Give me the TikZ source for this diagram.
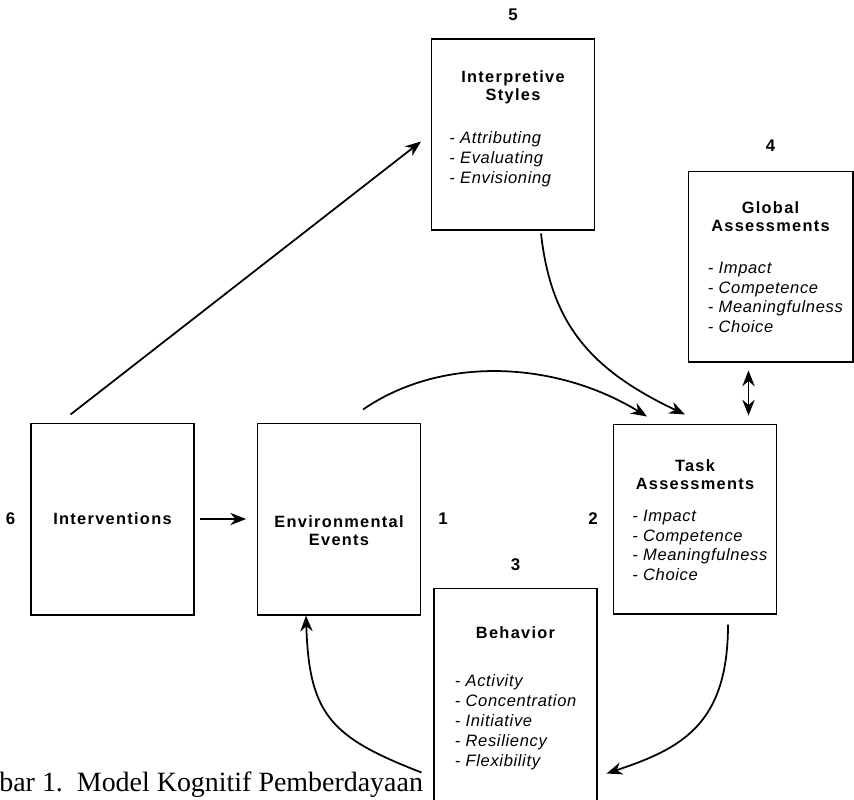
\documentclass[tikz,border=0pt]{standalone}
\usepackage{fontspec}
\setmainfont{Liberation Sans}
\newfontfamily\capfont{Liberation Serif}
\newfontfamily\headfont[LetterSpace=8]{Liberation Sans}
\newfontfamily\itemfont[LetterSpace=4]{Liberation Sans}
\usetikzlibrary{positioning, arrows.meta, calc}

\begin{document}
\begin{tikzpicture}[x=0.02cm, y=-0.02cm, >={Stealth[length=9pt,width=7pt]},
  box/.style={draw, line width=0.6pt, minimum width=3.26cm, minimum height=3.84cm, inner sep=0pt},
  head/.style={font=\headfont\bfseries\fontsize{9.3}{10.2}\selectfont, align=center, inner sep=0pt},
  items/.style={font=\itemfont\itshape\fontsize{9.4}{11.3}\selectfont, align=left, inner sep=0pt, anchor=north west},
  num/.style={font=\bfseries\fontsize{9.6}{10}\selectfont, inner sep=0pt},
  arr/.style={->, line width=1pt}]
  \useasboundingbox (0,0) rectangle (854,799);
  \clip (0,0) rectangle (854,799);

  \node[box, minimum height=3.82cm] (styles) at (513,134.5) {};
  \node[box, minimum width=3.3cm, minimum height=3.82cm] (global) at (770.5,266.5) {};
  \node[box] (interv) at (112.5,519) {};
  \node[box] (env) at (339,519) {};
  \node[box, minimum height=3.8cm] (task) at (695,519) {};
  \node[box, minimum height=4.84cm] (behav) at (515.5,709) {};

  \node[num, above=0.34cm of styles] (n5) {5};
  \node[num, above=0.38cm of global] (n4) {4};
  \node[num, above=0.32cm of behav] (n3) {3};
  \node[num, left=0.3cm of interv] (n6) {6};
  \node[num, right=0.34cm of env] (n1) {1};
  \node[num, left=0.3cm of task] (n2) {2};

  \node[head] (styles-t) at ($(styles.north)+(0,48.5)$) {Interpretive\\Styles};
  \node[head] (global-t) at ($(global.north)+(0,46)$) {Global\\Assessments};
  \node[head] (interv-t) at (interv) {Interventions};
  \node[head] (env-t) at ($(env)+(0,12)$) {Environmental\\Events};
  \node[head] (task-t) at ($(task.north)+(0,51)$) {Task\\Assessments};
  \node[head] (behav-t) at ($(behav.north)+(0,45)$) {Behavior};

  \node[items] (styles-l) at ($(styles.north west)+(18,93)$) {- Attributing\\- Evaluating\\- Envisioning};
  \node[items] (global-l) at ($(global.north west)+(20,91)$) {- Impact\\- Competence\\- Meaningfulness\\- Choice};
  \node[items] (task-l) at ($(task.north west)+(19,86)$) {- Impact\\- Competence\\- Meaningfulness\\- Choice};
  \node[items] (behav-l) at ($(behav.north west)+(21,87)$) {- Activity\\- Concentration\\- Initiative\\- Resiliency\\- Flexibility};

  \node[font=\capfont\fontsize{15.9}{18}\selectfont, anchor=base west, inner sep=0pt] (caption) at (-1,791) {bar 1.\ \ Model Kognitif Pemberdayaan};

  \coordinate (ga) at ($(global.south)+(-22,0)$);
  \draw[arr] ($(interv.north)+(-42,-8)$) -- ($(styles.north west)+(-10,103)$);
  \draw[arr, shorten <=3.4pt, shorten >=6.2pt] (interv) -- (env);
  \draw[arr] ($(env.north)+(24,-13)$) .. controls +(80,-55) and +(-90,-55) .. ($(task.north)+(-48,-7)$);
  \draw[arr] ($(styles.south)+(28,3)$) .. controls +(10,90) and +(-95,-45) .. ($(task.north)+(-10,-9)$);
  \draw[arr, <->, shorten <=4.5pt, shorten >=4.5pt] (ga) -- (ga |- task.north);
  \draw[arr] ($(task.south)+(33,10)$) .. controls +(0,100) and +(75,-25) .. ($(behav.north east)+(9,186)$);
  \draw[arr] ($(behav.north west)+(-12,185)$) .. controls +(-90,-35) and +(3,100) .. ($(env.south)+(-33,0)$);
\end{tikzpicture}
\end{document}
